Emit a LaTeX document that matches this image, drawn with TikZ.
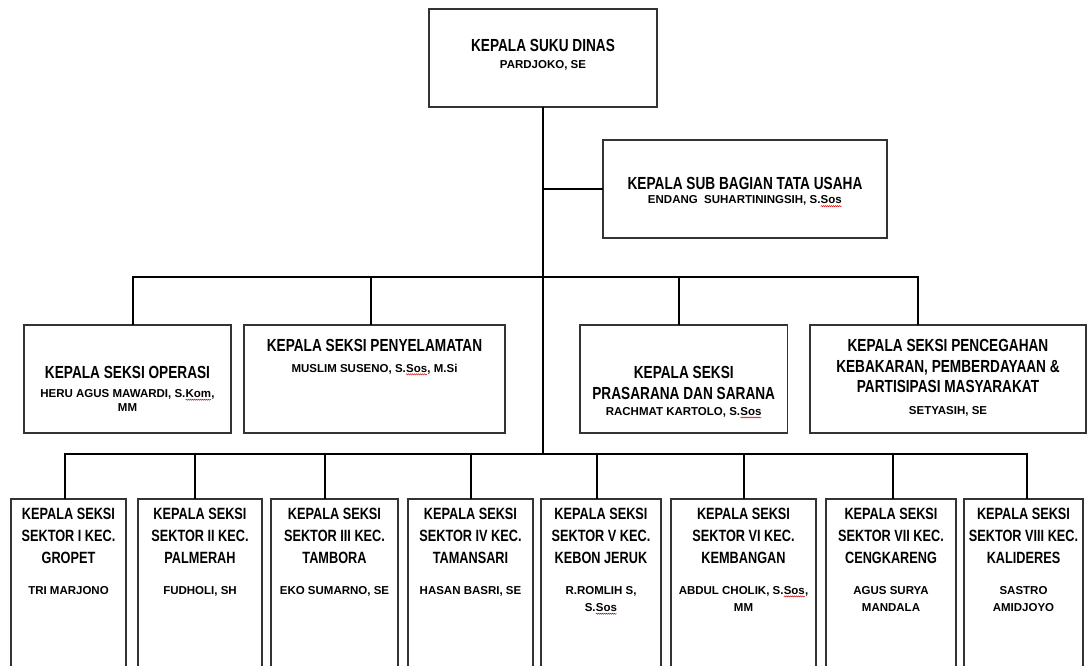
\documentclass[tikz,border=0pt]{standalone}
\usepackage{fontspec}
\setmainfont{Liberation Sans}
\newfontfamily\hdfont[FakeStretch=0.78]{Liberation Sans}
\usetikzlibrary{decorations.pathmorphing}
\tikzset{
  box/.style={draw=black!80, line width=1.2pt, fill=white, rectangle, inner sep=0pt, outer sep=0pt},
  conn/.style={draw=black, line width=2.5pt, line join=miter},
  hd/.style={inner sep=0pt, anchor=north, align=center, font=\hdfont\bfseries\fontsize{17.5}{20.6}\selectfont},
  hdr/.style={inner sep=0pt, anchor=north, align=center, font=\hdfont\bfseries\fontsize{16.3}{21.7}\selectfont},
  nm/.style={inner sep=0pt, anchor=north, align=center, font=\bfseries\fontsize{11.5}{13.6}\selectfont},
  nmr/.style={inner sep=0pt, anchor=north, align=center, font=\bfseries\fontsize{11.5}{17.3}\selectfont},
  wavy/.style={draw=red!85!black, line width=0.45pt, decorate, decoration={snake, amplitude=0.6pt, segment length=2pt}}
}
\newcommand\wv[1]{\tikz[baseline=(w.base)]{\node[inner sep=0pt,outer sep=0pt,anchor=base,draw=none,fill=none](w){#1};\draw[wavy]([yshift=-2.2pt]w.base west)--([yshift=-2.2pt]w.base east);}}
\begin{document}
\begin{tikzpicture}[x=1pt,y=-1pt]
\useasboundingbox (0,0) rectangle (1090,665);
\fill[white] (0,0) rectangle (1090,665);
\clip (0,0) rectangle (1090,665);
% boxes
\node[box, minimum width=228pt, minimum height=98pt] (top) at (543,58) {};
\node[box, minimum width=284pt, minimum height=98pt] (sub) at (745,189) {};
\node[box, minimum width=207pt, minimum height=108pt] (b1) at (127.5,379) {};
\node[box, minimum width=261pt, minimum height=108pt] (b2) at (374.5,379) {};
\node[box, minimum width=207.5pt, minimum height=108pt] (b3) at (683.75,379) {};
\node[box, minimum width=276pt, minimum height=108pt] (b4) at (948,379) {};
\node[box, minimum width=115pt, minimum height=191pt] (c1) at (68.5,594.5) {};
\node[box, minimum width=124pt, minimum height=191pt] (c2) at (200,594.5) {};
\node[box, minimum width=127pt, minimum height=191pt] (c3) at (334.5,594.5) {};
\node[box, minimum width=125pt, minimum height=191pt] (c4) at (470.5,594.5) {};
\node[box, minimum width=120pt, minimum height=191pt] (c5) at (601,594.5) {};
\node[box, minimum width=145pt, minimum height=191pt] (c6) at (743.5,594.5) {};
\node[box, minimum width=130pt, minimum height=191pt] (c7) at (891,594.5) {};
\node[box, minimum width=119pt, minimum height=191pt] (c8) at (1023.5,594.5) {};
% connector coordinates
\coordinate (j) at (543,189);
\coordinate (r2L) at (133,277);
\coordinate (r2R) at (918,277);
\coordinate (r2a) at (371,277);
\coordinate (r2b) at (679,277);
\coordinate (r3T) at (543,454);
\coordinate (r3L) at (65,454);
\coordinate (r3R) at (1027,454);
\coordinate (d2) at (195,454);
\coordinate (d3) at (325,454);
\coordinate (d4) at (471,454);
\coordinate (d5) at (597,454);
\coordinate (d6) at (744,454);
\coordinate (d7) at (893,454);
% connectors
\draw[conn] (top.south) -- (r3T);
\draw[conn] (j) -- (sub.west);
\draw[conn] (r2L |- b1.north) -- (r2L) -- (r2R) -- (r2R |- b4.north);
\draw[conn] (r2a) -- (r2a |- b2.north);
\draw[conn] (r2b) -- (r2b |- b3.north);
\draw[conn] (r3L |- c1.north) -- (r3L) -- (r3R) -- (r3R |- c8.north);
\draw[conn] (d2) -- (d2 |- c2.north);
\draw[conn] (d3) -- (d3 |- c3.north);
\draw[conn] (d4) -- (d4 |- c4.north);
\draw[conn] (d5) -- (d5 |- c5.north);
\draw[conn] (d6) -- (d6 |- c6.north);
\draw[conn] (d7) -- (d7 |- c7.north);
% texts
\node[hd] (tH) at (543,39.3) {KEPALA SUKU DINAS};
\node[nm] (tN) at (543,60) {PARDJOKO, SE};
\node[hd] (sH) at (745,176.7) {KEPALA SUB BAGIAN TATA USAHA};
\node[nm] (sN) at (745,195.7) {ENDANG\ \ SUHARTININGSIH, S.\wv{Sos}};
\node[hd] (b1H) at (127.5,366.4) {KEPALA SEKSI OPERASI};
\node[nm] (b1N) at (127.5,389.3) {HERU AGUS MAWARDI, S.\wv{Kom},\\MM};
\node[hd] (b2H) at (374.5,339.3) {KEPALA SEKSI PENYELAMATAN};
\node[nm] (b2N) at (374.5,363.6) {MUSLIM SUSENO, S.\wv{Sos}, M.Si};
\node[hd] (b3H) at (683.75,366) {KEPALA SEKSI\\PRASARANA DAN SARANA};
\node[nm] (b3N) at (683.75,407) {RACHMAT KARTOLO, S.\wv{Sos}};
\node[hd] (b4H) at (948,339.3) {KEPALA SEKSI PENCEGAHAN\\KEBAKARAN, PEMBERDAYAAN \&\\PARTISIPASI MASYARAKAT};
\node[nm] (b4N) at (948,406.4) {SETYASIH, SE};
\node[hdr] (c1H) at (68.5,508.3) {KEPALA SEKSI\\SEKTOR I KEC.\\GROPET};
\node[nmr] (c1N) at (68.5,586) {TRI MARJONO};
\node[hdr] (c2H) at (200,508.3) {KEPALA SEKSI\\SEKTOR II KEC.\\PALMERAH};
\node[nmr] (c2N) at (200,586) {FUDHOLI, SH};
\node[hdr] (c3H) at (334.5,508.3) {KEPALA SEKSI\\SEKTOR III KEC.\\TAMBORA};
\node[nmr] (c3N) at (334.5,586) {EKO SUMARNO, SE};
\node[hdr] (c4H) at (470.5,508.3) {KEPALA SEKSI\\SEKTOR IV KEC.\\TAMANSARI};
\node[nmr] (c4N) at (470.5,586) {HASAN BASRI, SE};
\node[hdr] (c5H) at (601,508.3) {KEPALA SEKSI\\SEKTOR V KEC.\\KEBON JERUK};
\node[nmr] (c5N) at (601,586) {R.ROMLIH S,\\S.\wv{Sos}};
\node[hdr] (c6H) at (743.5,508.3) {KEPALA SEKSI\\SEKTOR VI KEC.\\KEMBANGAN};
\node[nmr] (c6N) at (743.5,586) {ABDUL CHOLIK, S.\wv{Sos},\\MM};
\node[hdr] (c7H) at (891,508.3) {KEPALA SEKSI\\SEKTOR VII KEC.\\CENGKARENG};
\node[nmr] (c7N) at (891,586) {AGUS SURYA\\MANDALA};
\node[hdr] (c8H) at (1023.5,508.3) {KEPALA SEKSI\\SEKTOR VIII KEC.\\KALIDERES};
\node[nmr] (c8N) at (1023.5,586) {SASTRO\\AMIDJOYO};
\end{tikzpicture}
\end{document}
